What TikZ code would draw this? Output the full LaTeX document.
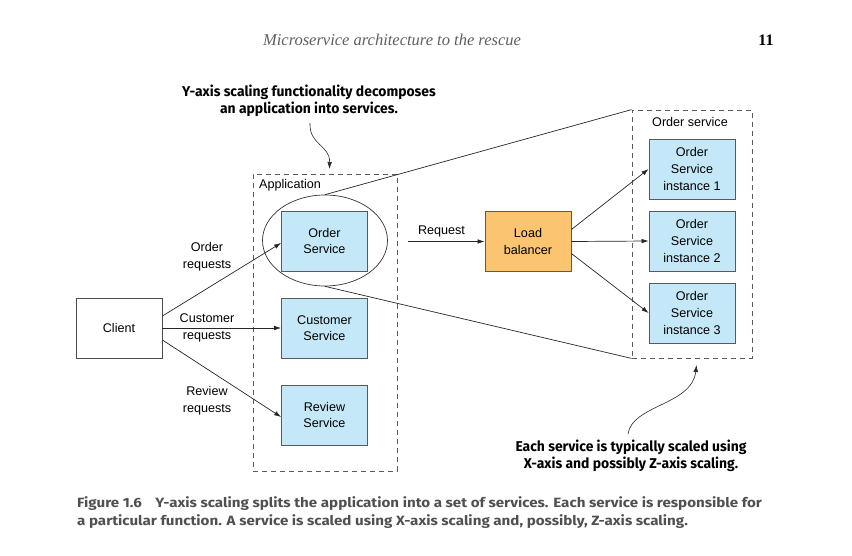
\documentclass[tikz,border=0pt]{standalone}
\usepackage{fontspec}
\setmainfont{Liberation Sans}
\newfontfamily\annfont{Fira Sans}[FakeStretch=0.98]
\newfontfamily\capfont{Fira Sans}[FakeStretch=1.13]
\newfontfamily\hdrfont{Liberation Serif}
\usetikzlibrary{arrows.meta,shapes.geometric}
\definecolor{svcblue}{RGB}{197,232,248}
\definecolor{lborange}{RGB}{250,196,112}
\definecolor{edgegray}{RGB}{90,90,90}
\definecolor{capgray}{RGB}{80,80,80}
\definecolor{hdrgray}{RGB}{95,95,95}
\newcommand{\dfont}{\fontsize{12.6}{16.6}\selectfont}
\tikzset{
  box/.style={draw=edgegray, line width=0.8pt, minimum width=86pt, minimum height=60pt,
    inner sep=0pt, align=center, font=\dfont},
  svc/.style={box, fill=svcblue},
  lbbox/.style={box, fill=lborange},
  dashbox/.style={draw=edgegray, line width=0.8pt, dash pattern=on 5pt off 4pt, inner sep=0pt},
  arr/.style={draw=black!85, line width=0.7pt, -{Latex[length=7pt,width=4.6pt]}},
  conn/.style={draw=black!85, line width=0.7pt},
  lbl/.style={align=center, font=\dfont, inner sep=0pt},
  ann/.style={align=center, font=\annfont\bfseries\fontsize{14.2}{16.8}\selectfont, inner sep=0pt},
  capt/.style={anchor=west, inner sep=0pt, text=capgray, font=\capfont\bfseries\fontsize{13.4}{15}\selectfont}
}
\begin{document}
\begin{tikzpicture}[x=1pt,y=-1pt]
\useasboundingbox (0,0) rectangle (852,555);
% header
\node[inner sep=0pt, text=hdrgray, font=\hdrfont\itshape\fontsize{16.5}{19}\selectfont] (hdr) at (392,40) {Microservice architecture to the rescue};
\node[inner sep=0pt, font=\hdrfont\bfseries\fontsize{16}{19}\selectfont] (pg) at (766,40) {11};
% top annotation
\node[ann] (anntop) at (309,100.5) {Y-axis scaling functionality decomposes\\an application into services.};
% application box
\node[dashbox, minimum width=144pt, minimum height=297pt] (app) at (325,322.5) {};
\node[lbl, anchor=west] (applbl) at (259,185.5) {Application};
% services
\node[svc] (os) at (324.5,241) {Order\\Service};
\node[svc] (cs) at (324.5,328) {Customer\\Service};
\node[svc] (rs) at (324.5,415) {Review\\Service};
\node[draw=black!80, ellipse, line width=0.7pt, minimum width=125pt, minimum height=91pt, inner sep=0pt] (el) at (325,240.5) {};
% client
\node[box, draw=black!70] (client) at (119,328) {Client};
% client arrows
\draw[arr] ([yshift=12pt]client.east) -- ([yshift=-2pt]os.west);
\draw[arr] (client.east) -- (cs.west);
\draw[arr] ([yshift=-12pt]client.east) -- ([yshift=-2pt]rs.west);
\node[lbl] (l1) at (207,257) {Order\\requests};
\node[lbl] (l2) at (207,328) {Customer\\requests};
\node[lbl] (l3) at (207,401) {Review\\requests};
% order service box
\node[dashbox, minimum width=120pt, minimum height=248pt] (osb) at (692,234) {};
\node[lbl] (osblbl) at (690,121.5) {Order service};
\node[svc] (i1) at (692,169) {Order\\Service\\instance 1};
\node[svc] (i2) at (692,241) {Order\\Service\\instance 2};
\node[svc] (i3) at (692,313) {Order\\Service\\instance 3};
% load balancer
\node[lbbox] (lb) at (528,241.5) {Load\\balancer};
\coordinate (req) at (408,241.5);
\draw[arr] (req) -- (lb.west);
\node[lbl] (reqlbl) at (441.5,231) {Request};
\draw[arr] ([yshift=12pt]lb.east) -- (i1.west);
\draw[arr] (lb.east) -- (i2.west);
\draw[arr] ([yshift=-12pt]lb.east) -- (i3.west);
% projection lines
\draw[conn] (el.north) -- (osb.north west);
\draw[conn] (el.south) -- (osb.south west);
% annotation arrows
\coordinate (ta) at (310,123);
\coordinate (tb) at (329.5,169);
\draw[arr, line width=0.6pt] (ta) .. controls (309,145) and (330,145) .. (tb);
% bottom annotation
\node[ann] (annbot) at (631,455.5) {Each service is typically scaled using\\X-axis and possibly Z-axis scaling.};
\coordinate (ba) at (628,434);
\coordinate (bb) at (696.5,365);
\draw[arr, line width=0.6pt] (ba) .. controls (632,405) and (692,405) .. (bb);
% caption
\node[capt] (c1) at (77,504) {Figure 1.6\hspace{1em}Y-axis scaling splits the application into a set of services. Each service is responsible for};
\node[capt] (c2) at (77,522) {a particular function. A service is scaled using X-axis scaling and, possibly, Z-axis scaling.};
\end{tikzpicture}
\end{document}
